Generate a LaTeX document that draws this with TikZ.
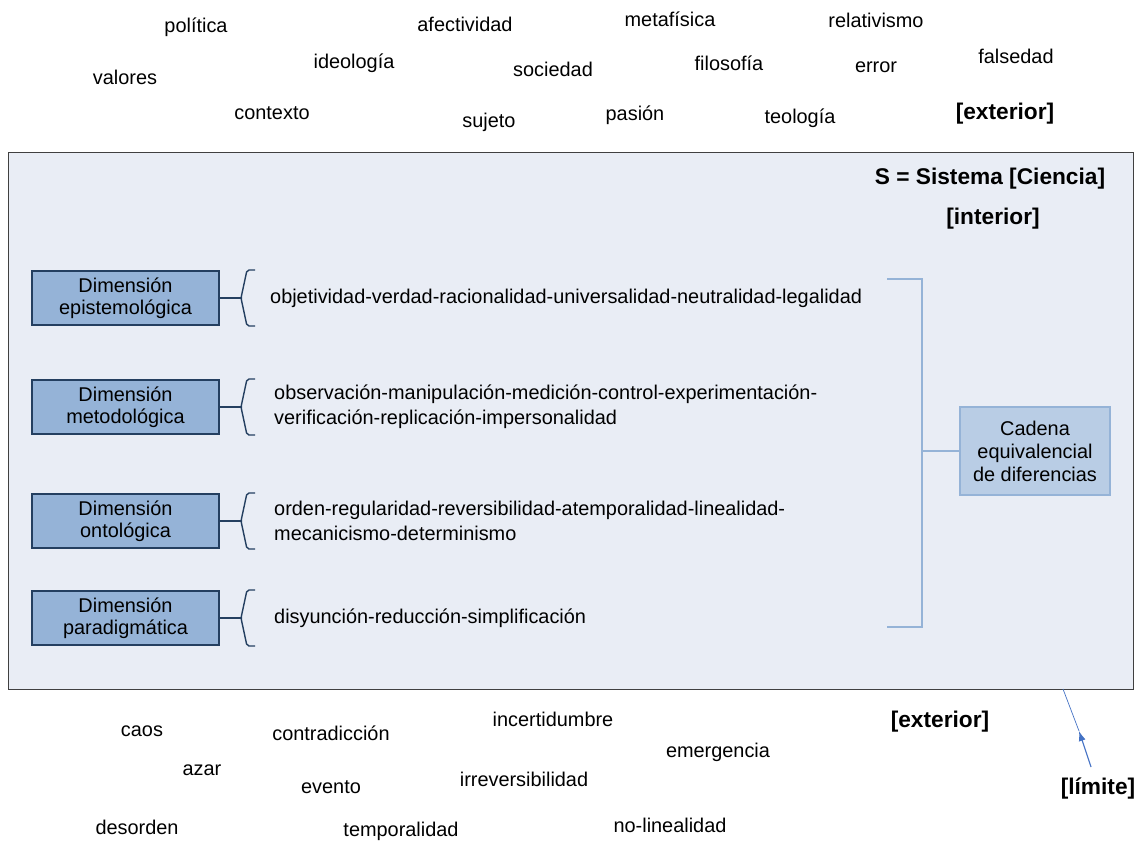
\documentclass[tikz,border=0pt]{standalone}
\usepackage{fontspec}
\setmainfont{Liberation Sans}
\usetikzlibrary{arrows.meta}

\definecolor{fondo}{RGB}{233,237,245}
\definecolor{marco}{RGB}{64,64,64}
\definecolor{dimfill}{RGB}{149,179,215}
\definecolor{dimline}{RGB}{36,63,96}
\definecolor{cadfill}{RGB}{185,205,229}
\definecolor{cadline}{RGB}{149,179,215}
\definecolor{limblue}{RGB}{68,114,196}

\tikzset{
  word/.style={inner sep=0pt, anchor=base, font=\fontsize{19.9}{23}\selectfont},
  boldword/.style={inner sep=0pt, anchor=base, font=\fontsize{22.7}{26}\selectfont\bfseries},
  longtext/.style={inner sep=0pt, anchor=west, align=left, font=\fontsize{19.9}{25}\selectfont},
  dimbox/.style={draw=dimline, fill=dimfill, line width=1.3pt, inner sep=0pt,
    minimum width=187pt, minimum height=54pt, align=center,
    font=\fontsize{19.9}{22.5}\selectfont},
  cadbox/.style={draw=cadline, fill=cadfill, line width=1.3pt, inner sep=0pt,
    minimum width=150pt, minimum height=88pt, align=center,
    font=\fontsize{19.9}{23}\selectfont},
  sysbox/.style={draw=marco, fill=fondo, line width=1pt, inner sep=0pt,
    minimum width=1125pt, minimum height=537pt},
  brace/.style={draw=dimline, line width=1.4pt, rounded corners=2pt},
  bracket/.style={draw=cadline, line width=1.6pt},
  limline/.style={draw=limblue, line width=1.1pt}
}

\begin{document}
\begin{tikzpicture}[x=1pt,y=-1pt]
\useasboundingbox (0,0) rectangle (1136,841);

% exterior, arriba
\node[word] (politica) at (196,32) {política};
\node[word] (afectividad) at (465,31) {afectividad};
\node[word] (metafisica) at (670,26) {metafísica};
\node[word] (relativismo) at (876,27) {relativismo};
\node[word] (ideologia) at (354,68) {ideología};
\node[word] (sociedad) at (553,76) {sociedad};
\node[word] (filosofia) at (729,70) {filosofía};
\node[word] (error) at (876,72) {error};
\node[word] (falsedad) at (1016,63) {falsedad};
\node[word] (valores) at (125,84) {valores};
\node[word] (contexto) at (272,119) {contexto};
\node[word] (sujeto) at (489,127) {sujeto};
\node[word] (pasion) at (635,120) {pasión};
\node[word] (teologia) at (800,123) {teología};
\node[boldword] (extarriba) at (1005,119) {[exterior]};

% sistema
\node[sysbox] (sistema) at (570.5,420.5) {};
\node[boldword] (ciencia) at (990,184) {S = Sistema [Ciencia]};
\node[boldword] (interior) at (993,224) {[interior]};

\node[dimbox] (epis) at (125.5,298) {Dimensión\\epistemológica};
\coordinate (b1) at (241,298);
\path[draw,brace] (epis) -- (b1);
\path[brace] (255,270) -- (247,270) -- (b1) -- (247,326) -- (255,326);
\node[longtext] (t1) at (270,298) {objetividad-verdad-racionalidad-universalidad-neutralidad-legalidad};

\node[dimbox] (meto) at (125.5,407) {Dimensión\\metodológica};
\coordinate (b2) at (241,407);
\path[draw,brace] (meto) -- (b2);
\path[brace] (255,379) -- (247,379) -- (b2) -- (247,435) -- (255,435);
\node[longtext] (t2) at (274,407) {observación-manipulación-medición-control-experimentación-\\verificación-replicación-impersonalidad};

\node[dimbox] (onto) at (125.5,521) {Dimensión\\ontológica};
\coordinate (b3) at (241,521);
\path[draw,brace] (onto) -- (b3);
\path[brace] (255,493) -- (247,493) -- (b3) -- (247,549) -- (255,549);
\node[longtext] (t3) at (274,521) {orden-regularidad-reversibilidad-atemporalidad-linealidad-\\mecanicismo-determinismo};

\node[dimbox] (para) at (125.5,618) {Dimensión\\paradigmática};
\coordinate (b4) at (241,618);
\path[draw,brace] (para) -- (b4);
\path[brace] (255,590) -- (247,590) -- (b4) -- (247,646) -- (255,646);
\node[longtext] (t4) at (274,618) {disyunción-reducción-simplificación};

\node[cadbox] (cadena) at (1035,451) {Cadena\\equivalencial\\de diferencias};
\coordinate (kt) at (887,279);
\coordinate (kb) at (887,627);
\coordinate (km) at (922,451);
\path[bracket] (kt) -- (922,279) -- (922,627) -- (kb);
\path[bracket] (km) -- (cadena);

% exterior, abajo
\node[word] (caos) at (142,736) {caos};
\node[word] (contradiccion) at (331,740) {contradicción};
\node[word] (incertidumbre) at (553,726) {incertidumbre};
\node[boldword] (extabajo) at (940,727) {[exterior]};
\node[word] (azar) at (202,775) {azar};
\node[word] (emergencia) at (718,757) {emergencia};
\node[word] (evento) at (331,793) {evento};
\node[word] (irrev) at (524,786) {irreversibilidad};
\node[word] (desorden) at (137,834) {desorden};
\node[word] (temporalidad) at (401,836.5) {temporalidad};
\node[word] (nolineal) at (670,832) {no-linealidad};

% limite
\node[boldword] (limite) at (1098,794) {[límite]};
\coordinate (lim) at (1091,767);
\coordinate (tip) at (1079,731);
\coordinate (edge) at (1063,689);
\path[limline,-{Latex[length=10pt,width=7pt]}] (lim) -- (tip);
\path[limline,line width=0.7pt] (tip) -- (edge);
\end{tikzpicture}
\end{document}
